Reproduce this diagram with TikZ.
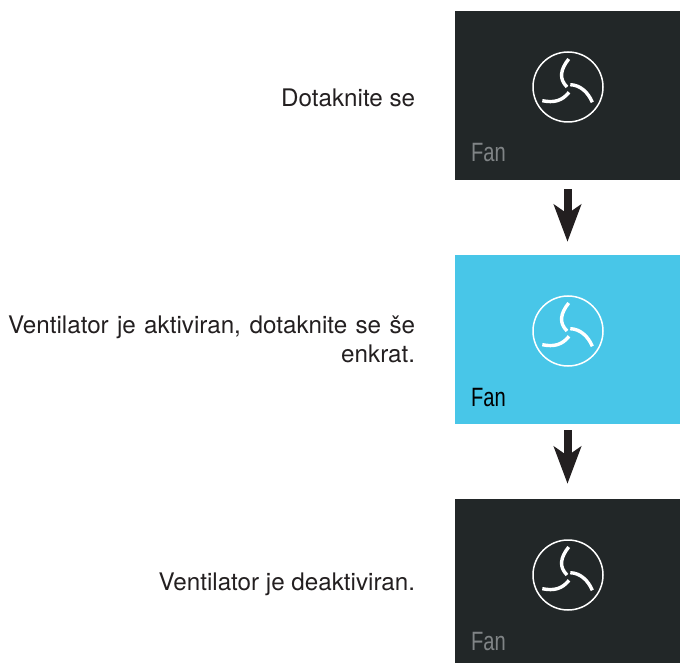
\documentclass[tikz,border=0pt]{standalone}
\usepackage{fontspec}
\setmainfont{TeX Gyre Heros}
\newfontfamily\panelfont{Liberation Sans}
\usetikzlibrary{positioning,arrows.meta}
\definecolor{paneldark}{HTML}{222728}
\definecolor{panelblue}{HTML}{48C6E8}
\definecolor{fangray}{HTML}{808486}
\definecolor{inkdark}{HTML}{231F20}
\def\fanblades{(0.7,-28) .. controls (-8,-17) and (-9,-8) .. (-1,0)
  (2.3,-2.3) .. controls (12,-2) and (20,5) .. (24.3,15.3)
  (1,5.3) .. controls (-6,14) and (-14,16) .. (-25.7,13.7)}
\newcommand{\fanicon}[1]{
  \draw[white,line width=1.5pt] (#1) circle (35);
  \draw[white,line width=3.4pt,shift={(#1)}] \fanblades;
}
\tikzset{
  panel/.style={minimum width=225pt,minimum height=169pt,inner sep=0pt,fill=paneldark},
  caption/.style={inner sep=0pt,text=inkdark,font=\fontsize{24.2}{29}\selectfont,align=right},
  fanlabel/.style={inner sep=0pt,anchor=base west,xscale=0.76,text=fangray,font=\panelfont\fontsize{26.5}{30}\selectfont},
  flowarrow/.style={-{Stealth[length=37pt,width=27pt,inset=9pt]},line width=8pt,color=inkdark}
}
\begin{document}
\begin{tikzpicture}[x=1pt,y=-1pt]
\useasboundingbox (0,0) rectangle (680,663);
\node[panel] (touch) at (567.5,95.5) {};
\node[panel,fill=panelblue] (active) at (567.5,339.5) {};
\node[panel,minimum height=165pt] (off) at (567.5,581.5) {};
\fanicon{568,87}
\fanicon{568,331}
\fanicon{568,575}
\node[fanlabel] (fan1) at (471,162) {Fan};
\node[fanlabel,text=black] (fan2) at (471,406) {Fan};
\node[fanlabel] (fan3) at (471,650) {Fan};
\node[caption,left=39.5pt of touch,yshift=-2pt] (text1) {Dotaknite se};
\node[caption,left=39.5pt of active] (text2) {\makebox[407pt][s]{Ventilator je aktiviran, dotaknite se še}\\enkrat.};
\node[caption,left=39.5pt of off,yshift=-3pt] (text3) {Ventilator je deaktiviran.};
\draw[flowarrow,shorten <=9pt,shorten >=13pt] (touch.south) -- (active.north);
\draw[flowarrow,shorten <=6pt,shorten >=15pt] (active.south) -- (off.north);
\end{tikzpicture}
\end{document}
